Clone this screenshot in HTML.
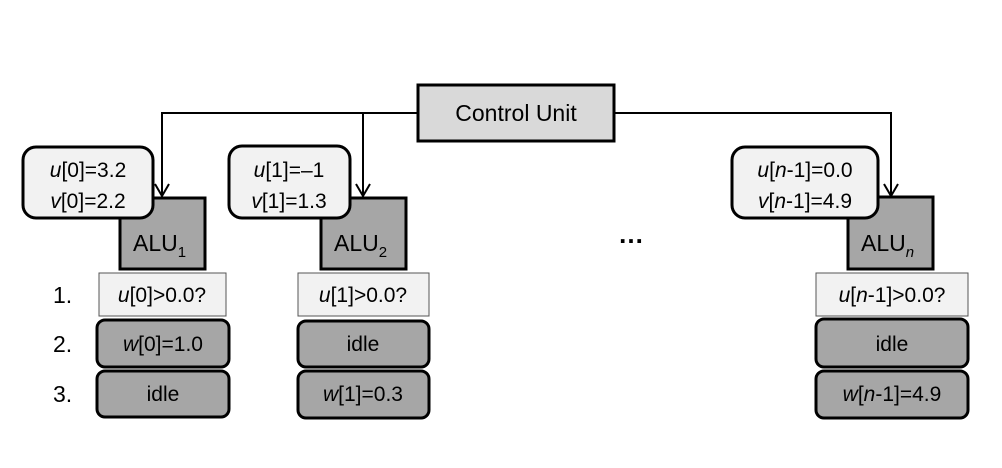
<!DOCTYPE html>
<html><head><meta charset="utf-8"><style>
html,body{margin:0;padding:0;background:#fff;}
svg{display:block;font-family:"Liberation Sans",sans-serif;}
</style></head><body>
<svg width="1002" height="468" viewBox="0 0 1002 468" xmlns="http://www.w3.org/2000/svg">
<g stroke="#000" stroke-width="2" fill="none">
<polyline points="418,113 162,113 162,196"/>
<line x1="363" y1="113" x2="363" y2="196"/>
<polyline points="614,113 891,113 891,196"/>
<polyline points="155,184 162,196 169,184"/>
<polyline points="356,184 363,196 370,184"/>
<polyline points="884,184 891,196 898,184"/>
</g>
<rect x="418" y="85" width="196" height="56" fill="#d9d9d9" stroke="#000" stroke-width="3"/>
<text x="516" y="121" font-size="23" text-anchor="middle">Control Unit</text>

<g fill="#a6a6a6" stroke="#000" stroke-width="3">
<rect x="120" y="198" width="85" height="71"/>
<rect x="321" y="198" width="85" height="71"/>
<rect x="848" y="197" width="85" height="72"/>
</g>
<g font-size="23">
<text x="133" y="251">ALU<tspan font-size="15" dy="6">1</tspan></text>
<text x="334" y="251">ALU<tspan font-size="15" dy="6">2</tspan></text>
<text x="861" y="251">ALU<tspan font-size="15" dy="6" font-style="italic">n</tspan></text>
</g>

<g fill="#f2f2f2" stroke="#000" stroke-width="3">
<rect x="23" y="147" width="130" height="71" rx="13"/>
<rect x="229" y="146" width="121" height="72" rx="13"/>
<rect x="732" y="147" width="146" height="71" rx="13"/>
</g>
<g font-size="21" text-anchor="middle">
<text x="88" y="177"><tspan font-style="italic">u</tspan>[0]=3.2</text>
<text x="88" y="208"><tspan font-style="italic">v</tspan>[0]=2.2</text>
<text x="289" y="177"><tspan font-style="italic">u</tspan>[1]=–1</text>
<text x="289" y="208"><tspan font-style="italic">v</tspan>[1]=1.3</text>
<text x="805" y="177"><tspan font-style="italic">u</tspan>[<tspan font-style="italic">n</tspan>-1]=0.0</text>
<text x="805" y="208"><tspan font-style="italic">v</tspan>[<tspan font-style="italic">n</tspan>-1]=4.9</text>
</g>

<g fill="#f2f2f2" stroke="#555" stroke-width="1">
<rect x="99" y="273" width="127" height="43"/>
<rect x="298" y="273" width="131" height="43"/>
<rect x="816" y="273" width="152" height="43"/>
</g>
<g fill="#a6a6a6" stroke="#000" stroke-width="3">
<rect x="97" y="320" width="132" height="47" rx="8"/>
<rect x="97" y="371" width="132" height="46" rx="8"/>
<rect x="298" y="321" width="131" height="46" rx="8"/>
<rect x="298" y="371" width="131" height="47" rx="8"/>
<rect x="816" y="319" width="152" height="48" rx="8"/>
<rect x="816" y="371" width="152" height="47" rx="8"/>
</g>
<g font-size="21" text-anchor="middle">
<text x="162" y="302"><tspan font-style="italic">u</tspan>[0]&gt;0.0?</text>
<text x="163" y="351"><tspan font-style="italic">w</tspan>[0]=1.0</text>
<text x="163" y="401">idle</text>
<text x="363" y="302"><tspan font-style="italic">u</tspan>[1]&gt;0.0?</text>
<text x="363" y="351">idle</text>
<text x="363" y="401"><tspan font-style="italic">w</tspan>[1]=0.3</text>
<text x="892" y="302"><tspan font-style="italic">u</tspan>[<tspan font-style="italic">n</tspan>-1]&gt;0.0?</text>
<text x="892" y="351">idle</text>
<text x="892" y="401"><tspan font-style="italic">w</tspan>[<tspan font-style="italic">n</tspan>-1]=4.9</text>
</g>
<g font-size="23">
<text x="53" y="303">1.</text>
<text x="53" y="352">2.</text>
<text x="53" y="402">3.</text>
</g>
<text x="631" y="243" font-size="26" font-weight="bold" text-anchor="middle">…</text>
</svg>
</body></html>
